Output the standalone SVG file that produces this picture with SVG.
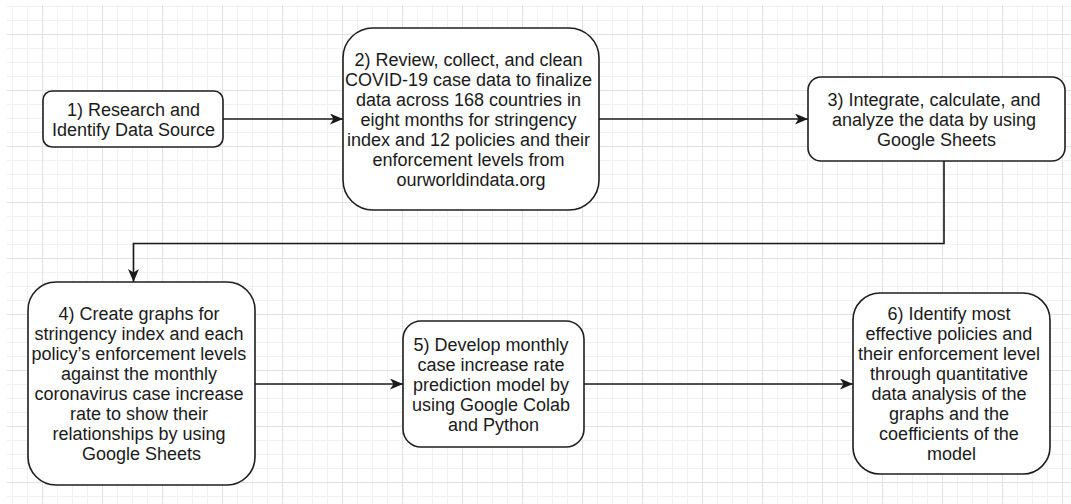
<svg xmlns="http://www.w3.org/2000/svg" width="1071" height="504" viewBox="0 0 1071 504">
  <defs>
    <pattern id="grid" patternUnits="userSpaceOnUse" x="42" y="34" width="60" height="56">
      <path d="M15.5,0V56M30.5,0V56M45.5,0V56M0,14.5H60M0,28.5H60M0,42.5H60" stroke="#f1f1f1" stroke-width="1" fill="none"/>
      <path d="M0.5,0V56M0,0.5H60" stroke="#e2e2e2" stroke-width="1" fill="none"/>
    </pattern>
    <marker id="arrow" markerUnits="userSpaceOnUse" markerWidth="14" markerHeight="12" refX="13" refY="5.5" orient="auto">
      <path d="M0,0 L13,5.5 L0,11 L3.5,5.5 Z" fill="#1a1a1a"/>
    </marker>
    <style>
      .box { fill: #ffffff; stroke: #1f1f1f; stroke-width: 1.6; }
      .lbl { font-family: "Liberation Sans", Arial, sans-serif; font-size: 18px; fill: #1a1a1a; text-anchor: middle; }
      .edge { fill: none; stroke: #1a1a1a; stroke-width: 1.6; marker-end: url(#arrow); }
    </style>
  </defs>
  <rect x="0" y="0" width="1071" height="504" fill="#ffffff"/>
  <rect x="7" y="5" width="1064" height="499" fill="url(#grid)"/>

  <g id="connectors">
    <path class="edge" d="M223,119 H343"/>
    <path class="edge" d="M599,119 H808"/>
    <path class="edge" d="M944,161 V243.5 H133.5 V282"/>
    <path class="edge" d="M255,384 H403"/>
    <path class="edge" d="M584,384 H853"/>
  </g>

  <g id="node1">
    <rect class="box" x="43" y="91" width="180" height="56" rx="9"/>
    <text class="lbl"><tspan x="133.5" y="115.5">1) Research and</tspan><tspan x="133.5" y="136">Identify Data Source</tspan></text>
  </g>

  <g id="node2">
    <rect class="box" x="343" y="28" width="256" height="182" rx="30"/>
    <text class="lbl">
      <tspan x="471" y="66">2) Review, collect, and clean</tspan>
      <tspan x="471" y="86">COVID-19 case data to finalize</tspan>
      <tspan x="471" y="106">data across 168 countries in</tspan>
      <tspan x="471" y="126">eight months for stringency</tspan>
      <tspan x="471" y="146">index and 12 policies and their</tspan>
      <tspan x="471" y="166">enforcement levels from</tspan>
      <tspan x="471" y="186">ourworldindata.org</tspan>
    </text>
  </g>

  <g id="node3">
    <rect class="box" x="808" y="77" width="257" height="84" rx="13"/>
    <text class="lbl">
      <tspan x="936.5" y="106">3) Integrate, calculate, and</tspan>
      <tspan x="936.5" y="126">analyze the data by using</tspan>
      <tspan x="936.5" y="146">Google Sheets</tspan>
    </text>
  </g>

  <g id="node4">
    <rect class="box" x="28" y="282" width="227" height="203" rx="28"/>
    <text class="lbl">
      <tspan x="141.5" y="320">4) Create graphs for</tspan>
      <tspan x="141.5" y="340">stringency index and each</tspan>
      <tspan x="141.5" y="360">policy’s enforcement levels</tspan>
      <tspan x="141.5" y="380">against the monthly</tspan>
      <tspan x="141.5" y="400">coronavirus case increase</tspan>
      <tspan x="141.5" y="420">rate to show their</tspan>
      <tspan x="141.5" y="440">relationships by using</tspan>
      <tspan x="141.5" y="460">Google Sheets</tspan>
    </text>
  </g>

  <g id="node5">
    <rect class="box" x="403" y="321" width="181" height="126" rx="18"/>
    <text class="lbl">
      <tspan x="493.5" y="351">5) Develop monthly</tspan>
      <tspan x="493.5" y="371">case increase rate</tspan>
      <tspan x="493.5" y="391">prediction model by</tspan>
      <tspan x="493.5" y="411">using Google Colab</tspan>
      <tspan x="493.5" y="431">and Python</tspan>
    </text>
  </g>

  <g id="node6">
    <rect class="box" x="853" y="293" width="197" height="181" rx="27"/>
    <text class="lbl">
      <tspan x="951.5" y="319.5">6) Identify most</tspan>
      <tspan x="951.5" y="339.5">effective policies and</tspan>
      <tspan x="951.5" y="359.5">their enforcement level</tspan>
      <tspan x="951.5" y="379.5">through quantitative</tspan>
      <tspan x="951.5" y="399.5">data analysis of the</tspan>
      <tspan x="951.5" y="419.5">graphs and the</tspan>
      <tspan x="951.5" y="439.5">coefficients of the</tspan>
      <tspan x="951.5" y="459.5">model</tspan>
    </text>
  </g>
</svg>
